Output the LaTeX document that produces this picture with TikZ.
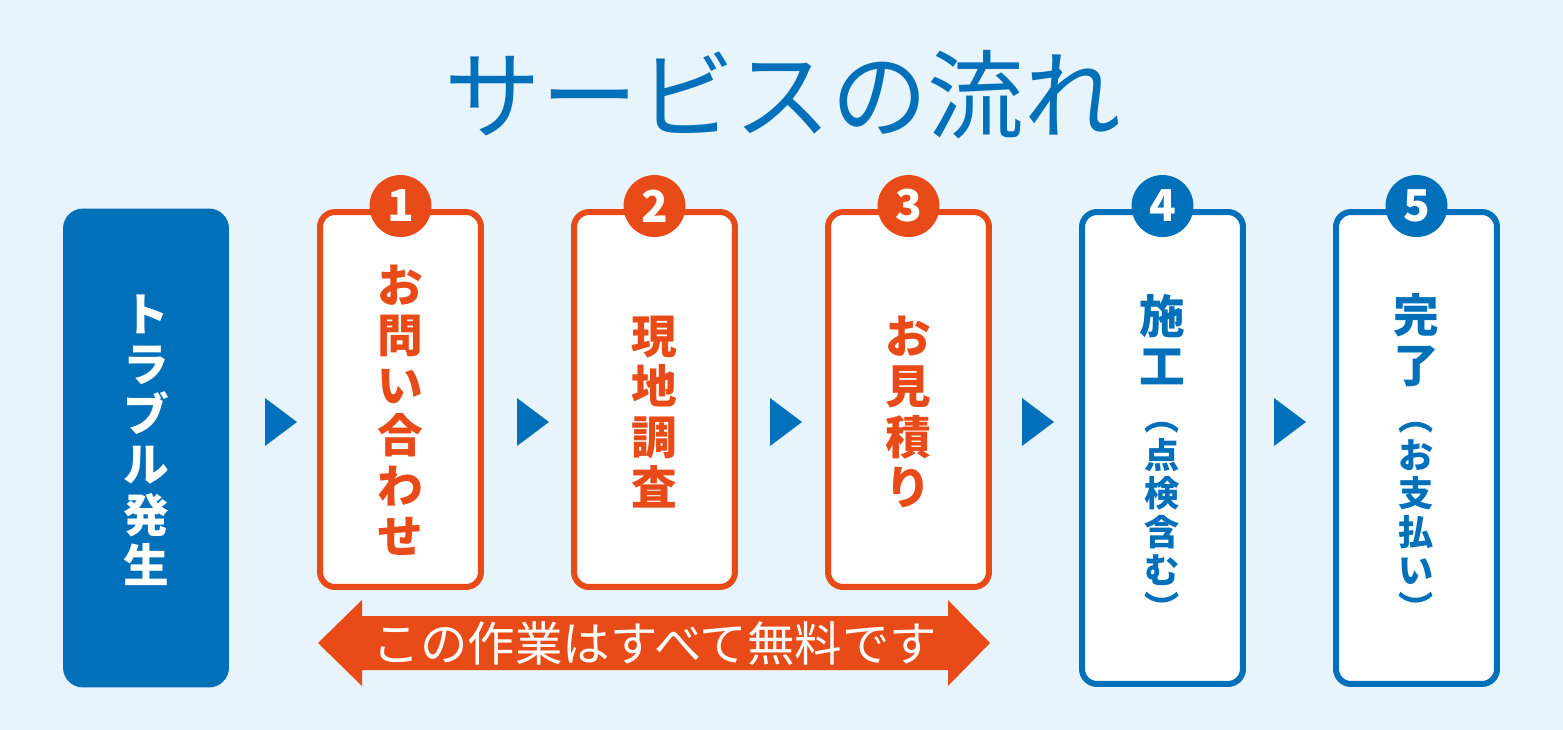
\documentclass[tikz,border=0pt]{standalone}
\usepackage{fontspec}
\setmainfont{Noto Sans CJK JP}
\usepackage{xcolor}
\usepackage{tikz}
\usetikzlibrary{positioning,calc}
\definecolor{FBlue}{HTML}{0070BA}
\definecolor{FOrange}{HTML}{E84A18}
\definecolor{FBack}{HTML}{E8F4FB}

\begin{document}
\begin{tikzpicture}[x=0.02cm, y=-0.02cm,
  every node/.style={align=center, inner sep=0pt},
  vtext/.style={font=\bfseries\fontsize{26}{28.6}\selectfont},
  stext/.style={font=\bfseries\fontsize{20}{21.8}\selectfont},
  stepbox/.style={draw=#1, line width=0.12cm, fill=white, rounded corners=0.3cm,
                  minimum width=3.22cm},
  badge/.style={circle, fill=#1, text=white, minimum size=1.24cm,
                font=\bfseries\fontsize{25}{25}\selectfont},
  marker/.style={fill=FBlue}]
\fill[FBack] (0,0) rectangle (1563,730);

% title
\node[text=FBlue, font=\fontsize{55}{55}\selectfont] (title) at (783,95) {サービスの流れ};

% start
\node[fill=FBlue, rounded corners=0.4cm, minimum width=3.32cm, minimum height=9.58cm] (trouble) at (146,448) {};
\node[vtext, text=white] (troubletxt) at (146,440) {ト\\ラ\\ブ\\ル\\発\\生};

% steps 1-3 (free of charge)
\node[stepbox=FOrange, minimum height=7.5cm] (s1) at (400.5,399.5) {};
\node[stepbox=FOrange, minimum height=7.5cm] (s2) at (654.5,399.5) {};
\node[stepbox=FOrange, minimum height=7.5cm] (s3) at (908.5,399.5) {};
\node[badge=FOrange] (n1) at ([yshift=0.06cm]s1.north) {1};
\node[badge=FOrange] (n2) at ([yshift=0.06cm]s2.north) {2};
\node[badge=FOrange] (n3) at ([yshift=0.06cm]s3.north) {3};
\node[vtext, text=FOrange] (s1txt) at (400,410) {お\\問\\い\\合\\わ\\せ};
\node[vtext, text=FOrange] (s2txt) at (654,412) {現\\地\\調\\査};
\node[vtext, text=FOrange] (s3txt) at (908,412) {お\\見\\積\\り};

% steps 4-5
\node[stepbox=FBlue, minimum height=9.44cm] (s4) at (1162.5,448) {};
\node[stepbox=FBlue, minimum height=9.44cm] (s5) at (1416.5,448) {};
\node[badge=FBlue] (n4) at ([yshift=0.06cm]s4.north) {4};
\node[badge=FBlue] (n5) at ([yshift=0.06cm]s5.north) {5};
\node[vtext, text=FBlue] (s4txt) at (1162,340) {施\\工};
\node[stext, text=FBlue] (s4sub) at (1162,522) {︵\\点\\検\\含\\む\\︶};
\node[vtext, text=FBlue] (s5txt) at (1416,340) {完\\了};
\node[stext, text=FBlue] (s5sub) at (1416,522) {︵\\お\\支\\払\\い\\︶};

% arrows between steps
\coordinate (g0) at (281,422);
\coordinate (g1) at (533,422);
\coordinate (g2) at (786,422);
\coordinate (g3) at (1038,422);
\coordinate (g4) at (1290,422);
\fill[marker, shift={(g0)}] (-16,-24) -- (16,0) -- (-16,24) -- cycle;
\fill[marker, shift={(g1)}] (-16,-24) -- (16,0) -- (-16,24) -- cycle;
\fill[marker, shift={(g2)}] (-16,-24) -- (16,0) -- (-16,24) -- cycle;
\fill[marker, shift={(g3)}] (-16,-24) -- (16,0) -- (-16,24) -- cycle;
\fill[marker, shift={(g4)}] (-16,-24) -- (16,0) -- (-16,24) -- cycle;

% free of charge span
\fill[FOrange] (318,643) -- (362,600) -- (362,616) -- (948,616) -- (948,600) -- (990,643)
  -- (948,686) -- (948,670) -- (362,670) -- (362,686) -- cycle;
\node[text=white, font=\fontsize{27}{27}\selectfont] (free) at (655,643) {この作業はすべて無料です};
\end{tikzpicture}
\end{document}
